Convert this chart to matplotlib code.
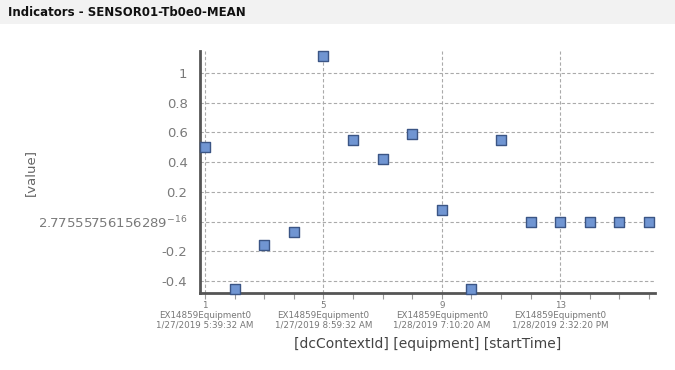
import matplotlib
matplotlib.use("Agg")
import matplotlib.pyplot as plt
from matplotlib.patches import Rectangle
from matplotlib.ticker import FixedLocator, MultipleLocator

# data
context_ids = list(range(1, 17))
values = [0.505, -0.452, -0.155, -0.067, 1.114, 0.55, 0.42, 0.59, 0.079, -0.452,
          0.549, 0.0, 0.0, 0.0, 0.0, 0.0]
label_ids = [1, 5, 9, 13]
label_equipment = ["EX14859Equipment0"] * 4
label_times = ["1/27/2019 5:39:32 AM", "1/27/2019 8:59:32 AM",
               "1/28/2019 7:10:20 AM", "1/28/2019 2:32:20 PM"]
y_ticks = [-0.4, -0.2, 0.0, 0.2, 0.4, 0.6, 0.8, 1.0]
y_labels = ["-0.4", "-0.2", "2.77555756156289$^{\\mathregular{-16}}$", "0.2", "0.4", "0.6", "0.8", "1"]

fig = plt.figure(figsize=(6.75, 3.7), dpi=100)
fig.patches.append(Rectangle((0, 1 - 24 / 370), 1, 24 / 370, transform=fig.transFigure,
                             facecolor="#f2f2f2", edgecolor="none", zorder=0))
fig.text(8 / 675, 1 - 12 / 370, "Indicators - SENSOR01-Tb0e0-MEAN", fontsize=8.5,
         fontweight="bold", va="center", ha="left", color="#111111")

ax = fig.add_axes([200 / 675, 1 - 293 / 370, 455 / 675, 242 / 370])
ax.scatter(context_ids, values, marker="s", s=55, facecolor="#7095d2",
           edgecolor="#3b5585", linewidth=1.0, zorder=3, clip_on=False)

ax.set_xlim(0.83, 16.2)
ax.set_ylim(-0.48, 1.148)

ax.xaxis.set_major_locator(FixedLocator(label_ids))
ax.xaxis.set_minor_locator(MultipleLocator(1))
ax.set_xticklabels([f"{i}\n{e}\n{t}" for i, e, t in zip(label_ids, label_equipment, label_times)],
                   fontsize=6.3, color="#777777", linespacing=1.1)
ax.set_yticks(y_ticks)
ax.set_yticklabels(y_labels, fontsize=9.5, color="#7a7a7a")

ax.tick_params(axis="x", which="both", length=4, width=0.8, color="#999999", pad=2)
ax.tick_params(axis="y", length=0, pad=9)

ax.grid(True, axis="both", which="major", linestyle=(0, (3, 2)), color="#aaaaaa", linewidth=0.8)
ax.set_axisbelow(True)
for s in ["top", "right"]:
    ax.spines[s].set_visible(False)
for s in ["left", "bottom"]:
    ax.spines[s].set_color("#555555")
    ax.spines[s].set_linewidth(2)

ax.set_xlabel("[dcContextId] [equipment] [startTime]", fontsize=10, color="#444444", labelpad=5)
fig.text(30 / 675, 1 - 172 / 370, "[value]", rotation=90, fontsize=9.5, color="#666666",
         va="center", ha="center")

fig.savefig("out.png", dpi=100)
